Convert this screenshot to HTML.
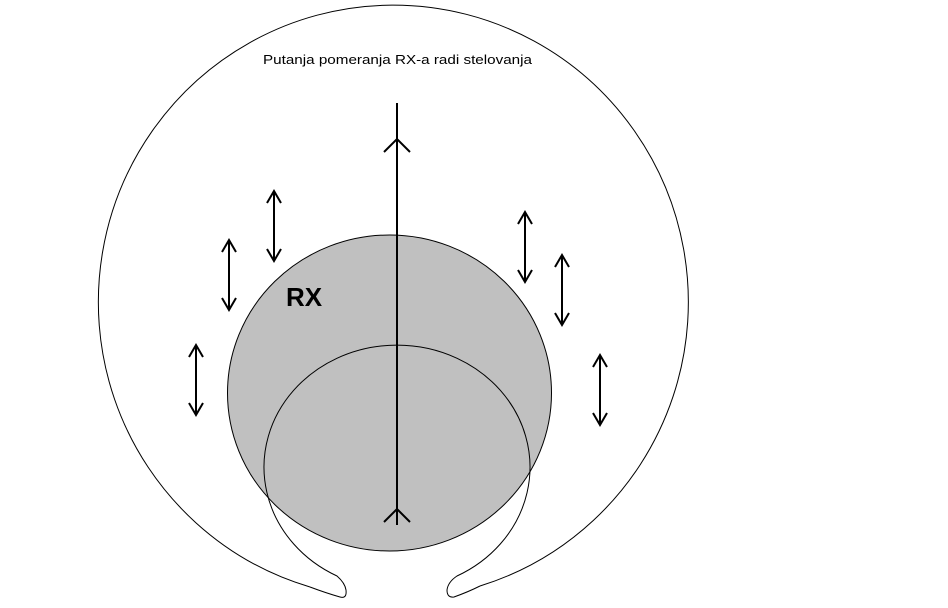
<!DOCTYPE html>
<html><head><style>html,body{margin:0;padding:0;background:#fff}svg{display:block}</style></head>
<body>
<svg width="948" height="608" viewBox="0 0 948 608" xmlns="http://www.w3.org/2000/svg">
<defs>
<g id="a">
<line x1="0" y1="0" x2="0" y2="70"/>
<polyline points="-7,12 0,0 7,12"/>
<polyline points="-7,58 0,70 7,58"/>
</g>
</defs>
<ellipse cx="389.5" cy="393" rx="162" ry="158" fill="#c0c0c0" stroke="#000" stroke-width="1"/>
<g fill="none" stroke="#000" stroke-width="1">
<path d="M310 587 Q326 593 340 597 Q347 599 346 590 Q345 583 337 576 A133 122 0 1 1 457 576 Q448 582 447 590 Q447 598 454 597 Q468 592 480 586"/>
<path d="M310 587 A295 297 0 1 1 480 586"/>
</g>
<g fill="none" stroke="#000" stroke-width="2">
<line x1="397" y1="103" x2="397" y2="525"/>
<polyline points="384,152 397,139 410,152"/>
<polyline points="384,522 397,509 410,522"/>
</g>
<g fill="none" stroke="#000" stroke-width="2">
<use href="#a" x="274" y="191"/>
<use href="#a" x="229" y="240"/>
<use href="#a" x="196" y="345"/>
<use href="#a" x="525" y="212"/>
<use href="#a" x="562" y="255"/>
<use href="#a" x="600" y="355"/>
</g>
<text x="263" y="64" font-family="Liberation Sans, sans-serif" font-size="13" textLength="269" lengthAdjust="spacingAndGlyphs">Putanja pomeranja RX-a radi stelovanja</text>
<text x="286" y="306" font-family="Liberation Sans, sans-serif" font-size="26" font-weight="bold">RX</text>
</svg>
</body></html>
